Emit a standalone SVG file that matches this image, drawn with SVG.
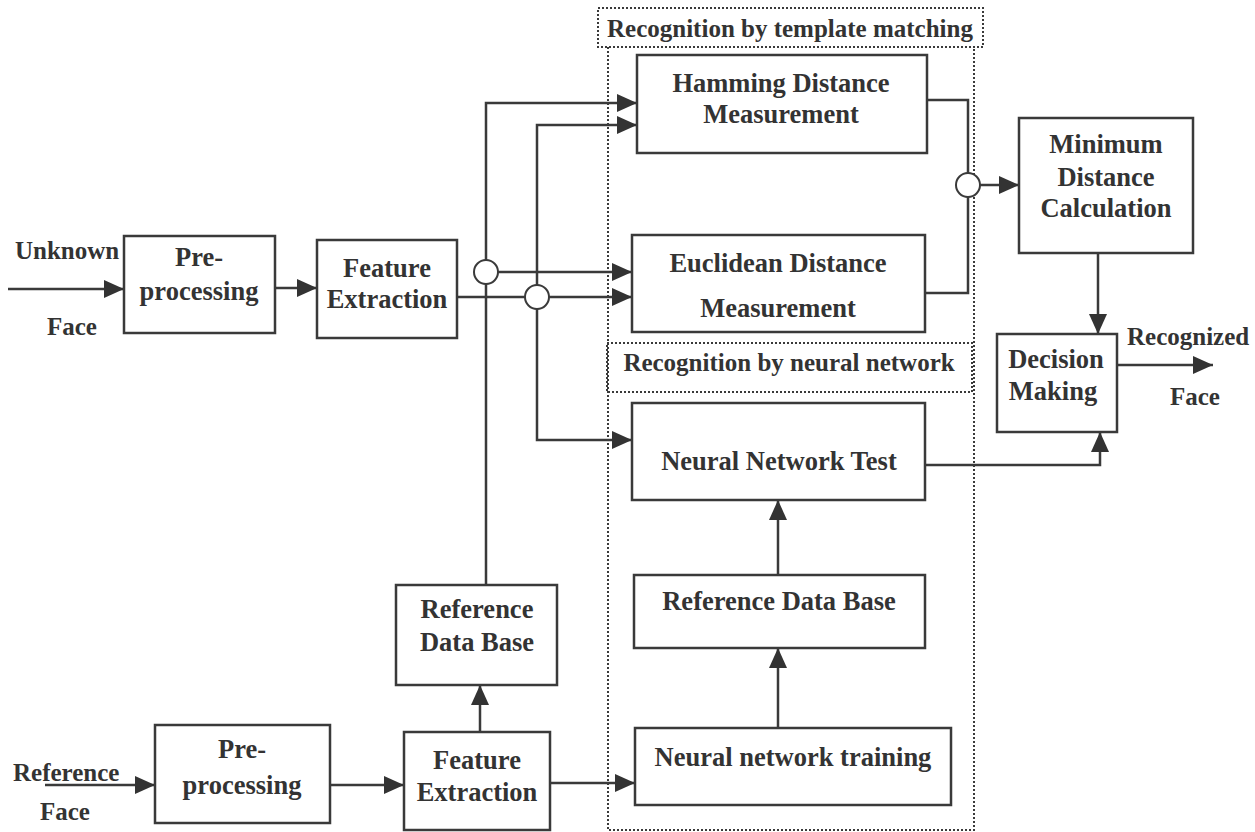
<svg xmlns="http://www.w3.org/2000/svg" width="1255" height="832" viewBox="0 0 1255 832">
<style>
.box{fill:#fff;stroke:#3a3a3a;stroke-width:2.5}
.dot{fill:none;stroke:#3a3a3a;stroke-width:2;stroke-dasharray:2 2}
.ln{fill:none;stroke:#3a3a3a;stroke-width:2.5}
.ar{fill:none;stroke:#3a3a3a;stroke-width:2.5;marker-end:url(#ah)}
.jn{fill:#fff;stroke:#3a3a3a;stroke-width:2}
text{font-family:"Liberation Serif","Times New Roman",serif;font-weight:bold;font-size:25px;fill:#333}
.c{text-anchor:middle;font-size:26.5px}
.t{text-anchor:middle}
</style>
<defs>
<marker id="ah" markerUnits="userSpaceOnUse" markerWidth="20" markerHeight="18" refX="20" refY="9" orient="auto">
<path d="M0,0 L20,9 L0,18 z" fill="#333"/>
</marker>
</defs>
<rect width="1255" height="832" fill="#fff"/>

<g id="regions">
<rect class="dot" x="598" y="8" width="385" height="39"/>
<path class="dot" d="M608,47 V830 H974 V47"/>
<rect class="dot" x="607" y="343" width="365" height="49"/>
<text class="t" x="790" y="37">Recognition by template matching</text>
<text class="t" x="789" y="371">Recognition by neural network</text>
</g>

<g id="connectors">
<path class="ar" d="M8,289 H124"/>
<path class="ar" d="M275,288 H317"/>
<path class="ar" d="M457,297 H632"/>
<path class="ar" d="M486,585 V103 H637"/>
<path class="ar" d="M498,272 H632"/>
<path class="ar" d="M537,297 V125 H637"/>
<path class="ar" d="M537,297 V440 H632"/>
<path class="ln" d="M927,100 H968 V293 H925"/>
<path class="ar" d="M980,185 H1019"/>
<path class="ar" d="M1098,253 V334"/>
<path class="ar" d="M1117,365 H1213"/>
<path class="ar" d="M925,465 H1100 V432"/>
<path class="ar" d="M778,575 V500"/>
<path class="ar" d="M778,728 V648"/>
<path class="ar" d="M45,785 H155"/>
<path class="ar" d="M330,785 H404"/>
<path class="ar" d="M550,783 H635"/>
<path class="ar" d="M480,732 V685"/>
<circle class="jn" cx="486" cy="272" r="12"/>
<circle class="jn" cx="537" cy="297" r="12"/>
<circle class="jn" cx="968" cy="185" r="12"/>
</g>

<g id="hamming">
<rect class="box" x="637" y="55" width="290" height="98"/>
<text class="c" x="781" y="92">Hamming Distance</text>
<text class="c" x="781" y="123">Measurement</text>
</g>
<g id="euclidean">
<rect class="box" x="632" y="235" width="293" height="97"/>
<text class="c" x="778" y="272">Euclidean Distance</text>
<text class="c" x="778" y="317">Measurement</text>
</g>
<g id="nntest">
<rect class="box" x="632" y="403" width="293" height="97"/>
<text class="c" x="779" y="470">Neural Network Test</text>
</g>
<g id="refdb-right">
<rect class="box" x="634" y="575" width="291" height="73"/>
<text class="c" x="779" y="610">Reference Data Base</text>
</g>
<g id="nntraining">
<rect class="box" x="635" y="728" width="316" height="77"/>
<text class="c" x="793" y="766">Neural network training</text>
</g>
<g id="mindist">
<rect class="box" x="1019" y="118" width="174" height="135"/>
<text class="c" x="1106" y="153">Minimum</text>
<text class="c" x="1106" y="186">Distance</text>
<text class="c" x="1106" y="217">Calculation</text>
</g>
<g id="decision">
<rect class="box" x="997" y="334" width="120" height="98"/>
<text class="c" x="1056" y="368">Decision</text>
<text class="c" x="1053" y="400">Making</text>
</g>
<g id="preproc-top">
<rect class="box" x="124" y="236" width="151" height="97"/>
<text class="c" x="199" y="266">Pre-</text>
<text class="c" x="199" y="300">processing</text>
</g>
<g id="feat-top">
<rect class="box" x="317" y="240" width="140" height="98"/>
<text class="c" x="387" y="277">Feature</text>
<text class="c" x="387" y="308">Extraction</text>
</g>
<g id="refdb-left">
<rect class="box" x="396" y="585" width="161" height="100"/>
<text class="c" x="477" y="618">Reference</text>
<text class="c" x="477" y="651">Data Base</text>
</g>
<g id="preproc-bottom">
<rect class="box" x="155" y="725" width="175" height="98"/>
<text class="c" x="242" y="758">Pre-</text>
<text class="c" x="242" y="794">processing</text>
</g>
<g id="feat-bottom">
<rect class="box" x="404" y="732" width="146" height="98"/>
<text class="c" x="477" y="769">Feature</text>
<text class="c" x="477" y="801">Extraction</text>
</g>

<g id="labels">
<text x="15" y="259">Unknown</text>
<text x="47" y="335">Face</text>
<text x="13" y="781">Reference</text>
<text x="40" y="820">Face</text>
<text x="1127" y="345">Recognized</text>
<text x="1170" y="405">Face</text>
</g>
</svg>
